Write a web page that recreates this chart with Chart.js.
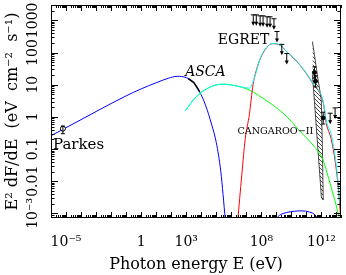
<!DOCTYPE html>
<html><head><meta charset="utf-8">
<script src="https://cdn.jsdelivr.net/npm/chart.js@4.4.0/dist/chart.umd.min.js"></script>
<style>html,body{margin:0;padding:0;background:#fff}</style>
</head><body>
<canvas id="c" width="346" height="275"></canvas>
<script>
// ---- data (E in eV, F = E^2 dF/dE in eV cm^-2 s^-1) ----
const syncE = [1e-6, 1e-4, 0.01, 0.1, 1, 10, 63, 250, 1000, 3200, 7900, 2e4, 5e4, 1e5, 2e5, 4e5];
const syncF = [0.26, 0.82, 2.6, 4.5, 7.4, 11.5, 15.8, 18.2, 16.6, 11.7, 6.0, 2.2, 0.56, 0.16, 0.02, 6.3e-4];
const bumpE = [5e8, 1.6e9, 5e9, 1.6e10, 5e10, 1.6e11, 4e11, 8e11];
const bumpF = [5e-4, 8.7e-4, 1.07e-3, 1.17e-3, 1.2e-3, 1.1e-3, 8.7e-4, 5e-4];
const greenE = [850, 3900, 2.75e4, 2.7e5, 2.6e6, 1.6e7, 2.4e8, 3.2e9, 3.5e10, 3.0e11, 1.3e12, 2.1e12, 4.5e12, 9.5e12, 1.5e13, 2e13];
const greenF = [1.53, 3.85, 7.8, 10.4, 9.0, 6.8, 3.1, 1.23, 0.37, 0.126, 0.045, 0.022, 0.0063, 0.0018, 7.9e-4, 5e-4];
const redE = [2.6e6, 5e6, 8.5e6, 1.6e7, 2.8e7, 5e7, 8.3e7, 2.4e8, 5.1e8, 1.5e9, 4.9e9, 3.5e10, 3.0e11, 1.3e12, 2.1e12, 4.5e12, 9.5e12, 1.5e13, 2e13];
const redF = [5e-4, 0.016, 0.21, 1.2, 10, 32, 63, 148, 188, 176, 106, 42, 10, 2.8, 0.63, 0.2, 0.025, 0.0032, 5e-4];
const cyanE = [850, 3900, 2.75e4, 2.7e5, 2.6e6, 1.6e7, 3.4e7, 8.3e7, 2.4e8, 5.1e8, 1.5e9, 4.9e9, 3.5e10, 3.0e11, 1.3e12, 2.1e12, 4.5e12, 9.5e12, 1.5e13, 2e13];
const cyanF = [1.53, 3.85, 7.8, 10.4, 9.0, 7.8, 15.8, 65, 151, 190, 178, 107, 43, 10.4, 3.1, 0.76, 0.28, 0.035, 0.0043, 0.001];
const ascaE = [1350, 3200, 7900];
const ascaF = [15.5, 11.7, 6.0];
const bowE = [2.5e11, 3.4e11, 4.6e11, 6.2e11, 8.5e11, 9.8e11, 1.15e12, 1.32e12];
const bowHi = [219, 87, 32, 12.8, 5.1, 3.1, 0.128, 0.0026];
const bowLo = [21, 3.1, 0.43, 0.063, 0.0087, 0.0032, 0.0028, 0.0026];
const parkesE = [6.2e-6], parkesF = [0.43], parkesLo = [0.30], parkesHi = [0.52];
const egretE = [2.9e7, 4.6e7, 8.3e7, 1.3e8, 2.4e8, 3.8e8, 6.9e8, 1.1e9, 2.3e9, 4.9e9];
const egretF = [1480, 1480, 1380, 1380, 1290, 1290, 1120, 450, 180, 93];
const cangE = [3.4e11, 4.0e11, 1.3e12], cangF = [24, 12.8, 0.93], cangLo = [16, 8.5, 0.6], cangHi = [36, 19, 1.4];
const cangUlE = [3.8e12, 8.1e12], cangUlF = [1.3, 1.9];
const xTickVals = [1e-5, 1, 1e3, 1e8, 1e12];
const xTickLabels = ['10\u207B\u2075', '1', '10\u00B3', '10\u2078', '10\u00B9\u00B2'];
const yTickVals = [1e-3, 0.01, 0.1, 1, 10, 100, 1000];
const yTickLabels = ['10\u207B\u00B3', '0.01', '0.1', '1', '10', '100', '1000'];
const xTitle = 'Photon energy E (eV)';
const yTitle = 'E\u00B2 dF/dE  (eV  cm\u207B\u00B2  s\u207B\u00B9)';
const notes = [
  {text: 'Parkes', E: 1.35e-6, F: 0.104, font: '15px "DejaVu Serif"'},
  {text: 'ASCA', E: 850, F: 18.2, font: 'italic 14px "DejaVu Serif"'},
  {text: 'EGRET', E: 1.26e5, F: 190, font: '14px "DejaVu Serif"'},
  {text: 'CANGAROO\u2212II', E: 2.57e6, F: 0.30, font: '9.6px "DejaVu Serif"'}
];

const pts = (E, F) => E.map((e, i) => ({x: e, y: F[i]}));
const ctx0 = document.getElementById('c').getContext('2d');
function hatch() {
  const c = document.createElement('canvas'); c.width = 4; c.height = 4;
  const g = c.getContext('2d'); g.strokeStyle = '#000'; g.lineWidth = 0.7;
  g.beginPath(); g.moveTo(0, 0); g.lineTo(4, 4); g.moveTo(-1, 3); g.lineTo(1, 5); g.moveTo(3, -1); g.lineTo(5, 1); g.stroke();
  return ctx0.createPattern(c, 'repeat');
}
const curve = (E, F, color, order, w) => ({data: pts(E, F), borderColor: color, borderWidth: w || 1, showLine: true, pointRadius: 0, cubicInterpolationMode: 'monotone', fill: false, order});
const noPad = s => { s.paddingLeft = 0; s.paddingRight = 0; s.paddingTop = 0; s.paddingBottom = 0; };

const frame = {
  id: 'frame',
  afterDatasetsDraw(chart) {
    const {ctx, scales: {x, y}} = chart;
    const X = v => x.getPixelForValue(v), Y = v => y.getPixelForValue(v);
    ctx.save();
    ctx.strokeStyle = '#000'; ctx.fillStyle = '#000'; ctx.lineWidth = 1;
    const ul = (px, py) => {
      const L = 11;
      ctx.beginPath(); ctx.moveTo(px - 2.5, py); ctx.lineTo(px + 2.5, py);
      ctx.moveTo(px, py); ctx.lineTo(px, py + L - 3); ctx.stroke();
      ctx.beginPath(); ctx.moveTo(px - 2, py + L - 4); ctx.lineTo(px + 2, py + L - 4); ctx.lineTo(px, py + L); ctx.closePath(); ctx.fill();
    };
    egretE.forEach((e, i) => ul(X(e), Y(egretF[i])));
    cangUlE.forEach((e, i) => ul(X(e), Y(cangUlF[i])));
    const eb = (px, lo, hi) => {
      ctx.beginPath(); ctx.moveTo(px, lo); ctx.lineTo(px, hi);
      ctx.moveTo(px - 2, lo); ctx.lineTo(px + 2, lo); ctx.moveTo(px - 2, hi); ctx.lineTo(px + 2, hi); ctx.stroke();
    };
    cangE.forEach((e, i) => eb(X(e), Y(cangLo[i]), Y(cangHi[i])));
    parkesE.forEach((e, i) => eb(X(e), Y(parkesLo[i]), Y(parkesHi[i])));
    ctx.restore();
  },
  afterDraw(chart) {
    const {ctx, chartArea: a, scales: {x, y}} = chart;
    ctx.save();
    ctx.strokeStyle = '#000'; ctx.lineWidth = 1;
    ctx.strokeRect(Math.round(a.left) + 0.5, Math.round(a.top) + 0.5, Math.round(a.right - a.left) - 1, Math.round(a.bottom - a.top) - 1);
    ctx.beginPath();
    for (let d = -7; d <= 14; d++) for (let m = 1; m <= 9; m++) {
      const v = m * Math.pow(10, d);
      if (v < x.min || v > x.max) continue;
      const px = Math.round(x.getPixelForValue(v)) + 0.5, L = m === 1 ? 6 : 3;
      ctx.moveTo(px, a.bottom); ctx.lineTo(px, a.bottom - L);
      ctx.moveTo(px, a.top); ctx.lineTo(px, a.top + L);
    }
    for (let d = -4; d <= 4; d++) for (let m = 1; m <= 9; m++) {
      const v = m * Math.pow(10, d);
      if (v < y.min || v > y.max) continue;
      const py = Math.round(y.getPixelForValue(v)) + 0.5, L = m === 1 ? 7 : 3.5;
      ctx.moveTo(a.left, py); ctx.lineTo(a.left + L, py);
      ctx.moveTo(a.right, py); ctx.lineTo(a.right - L, py);
    }
    ctx.stroke();
    ctx.fillStyle = '#000'; ctx.textBaseline = 'alphabetic'; ctx.textAlign = 'left';
    notes.forEach(n => { ctx.font = n.font; ctx.fillText(n.text, x.getPixelForValue(n.E), y.getPixelForValue(n.F)); });
    ctx.restore();
  }
};

new Chart(ctx0, {
  type: 'scatter',
  data: {datasets: [
    {data: pts(bowE, bowHi), borderColor: '#000', borderWidth: 0.7, showLine: true, pointRadius: 0, fill: false, order: 20},
    {data: pts(bowE, bowLo), borderColor: '#000', borderWidth: 0.7, showLine: true, pointRadius: 0, fill: '-1', backgroundColor: hatch(), order: 19},
    curve(syncE, syncF, '#0000ff', 10),
    curve(bumpE, bumpF, '#0000ff', 10),
    curve(greenE, greenF, '#00ff00', 9),
    curve(redE, redF, '#ff0000', 8),
    curve(cyanE, cyanF, '#00ffff', 7),
    {data: pts(ascaE, ascaF), borderColor: '#000', borderWidth: 1.5, showLine: true, pointRadius: 0, fill: false, order: 3},
    {data: pts(parkesE, parkesF), pointRadius: 2.5, pointStyle: 'circle', borderColor: '#000', backgroundColor: '#fff', borderWidth: 1, order: 1},
    {data: pts(cangE, cangF), pointRadius: 2, pointStyle: 'circle', borderColor: '#000', backgroundColor: '#000', borderWidth: 1, order: 1}
  ]},
  options: {
    responsive: false, animation: false, devicePixelRatio: 1,
    layout: {padding: {top: 3, right: 1, left: 0, bottom: 0}},
    plugins: {legend: {display: false}, tooltip: {enabled: false}},
    scales: {
      x: {
        type: 'logarithmic', min: 1e-6, max: 2e13,
        afterBuildTicks: s => { s.ticks = xTickVals.map(v => ({value: v})); },
        afterFit: s => { s.height = 57; noPad(s); },
        grid: {display: false, drawTicks: false}, border: {display: false},
        ticks: {autoSkip: false, maxRotation: 0, minRotation: 0, padding: 16, color: '#000',
          font: {family: 'DejaVu Serif', size: 14}, callback: (v, i) => xTickLabels[i]},
        title: {display: true, text: xTitle, color: '#000', font: {family: 'DejaVu Serif', size: 16}, padding: {top: 0, bottom: 1}}
      },
      y: {
        type: 'logarithmic', min: 7.2e-4, max: 3000,
        afterBuildTicks: s => { s.ticks = yTickVals.map(v => ({value: v})); },
        afterFit: s => { s.width = 51; noPad(s); },
        grid: {display: false, drawTicks: false}, border: {display: false},
        ticks: {autoSkip: false, minRotation: 90, maxRotation: 90, crossAlign: 'center', padding: 0, color: '#000',
          font: {family: 'DejaVu Serif', size: 14}, callback: (v, i) => yTickLabels[i]},
        title: {display: true, text: yTitle, color: '#000', font: {family: 'DejaVu Serif', size: 16}, padding: {top: 3.5, bottom: 0}}
      }
    }
  },
  plugins: [frame]
});
</script>
</body></html>
